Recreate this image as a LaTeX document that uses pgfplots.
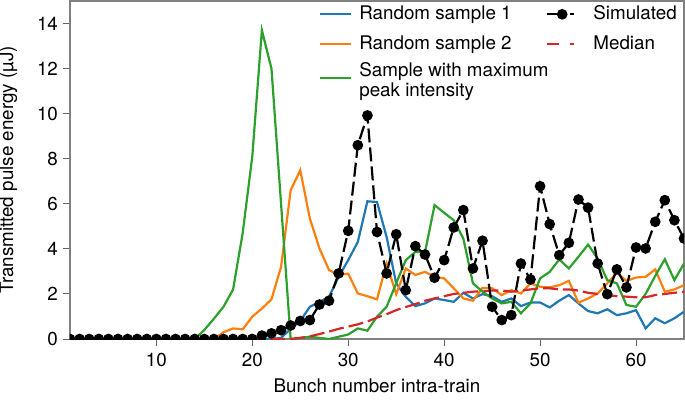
\documentclass[border=0pt]{standalone}
\usepackage{pgfplots}
\pgfplotsset{compat=1.18}
\usepackage{fontspec}
\setmainfont{TeX Gyre Heros}
\definecolor{tabblue}{HTML}{1F77B4}
\definecolor{taborange}{HTML}{FF7F0E}
\definecolor{tabgreen}{HTML}{2CA02C}
\definecolor{tabred}{HTML}{D62728}
\newcommand{\fs}{\fontsize{9.4}{10.2}\selectfont}
\begin{document}
\begin{tikzpicture}
\begin{axis}[
  scale only axis,
  width=307pt, height=169pt,
  xmin=1, xmax=65, ymin=0, ymax=15,
  xtick={10,20,30,40,50,60},
  ytick={0,2,4,6,8,10,12,14},
  tick align=outside,
  major tick length=3.5pt,
  xtick pos=bottom, ytick pos=left,
  tick style={black!60, line width=0.5pt},
  axis line style={black!50, line width=0.6pt},
  clip marker paths=true,
  /pgf/number format/assume math mode=true,
  tick label style={font=\fs},
  yticklabel style={xshift=1pt},
  label style={font=\fs},
  xlabel={Bunch number intra-train},
  ylabel={Transmitted pulse energy (µJ)},
  xlabel style={at={(axis description cs:0.5,0)}, anchor=center, yshift=-23.3pt},
  ylabel style={at={(axis description cs:-0.1003,0.5)}, anchor=center},
  legend columns=2,
  legend cell align=left,
  legend style={draw=none, fill=none, at={(0.395,1)}, anchor=north west, yshift=1pt,
    font=\fs, nodes={align=left, inner sep=1.2pt},
    /tikz/every odd column/.append style={column sep=2.4pt},
    /tikz/every even column/.append style={column sep=16pt},
    row sep=4.2pt},
  legend image code/.code={\draw[#1] (0pt,0pt) -- (15.5pt,0pt);},
]
\coordinate (bl) at (rel axis cs:0,0);
\coordinate (tr) at (rel axis cs:1,1);
% Random sample 1
\addplot[tabblue, line width=1.1pt, forget plot] coordinates {
(1,0)(2,0)(3,0)(4,0)(5,0)(6,0)(7,0)(8,0)(9,0)(10,0)(11,0)(12,0)(13,0)(14,0)(15,0)(16,0)(17,0)(18,0)(19,0)(20,0)(21,0)(22,0)
(23,0.05)(24,0.45)(25,0.8)(26,1.43)(27,1.65)(28,1.87)(29,2.76)(30,3.5)(31,4.31)(32,6.11)(33,6.08)(34,4.53)(35,2.47)(36,1.87)(37,1.46)(38,1.58)(39,1.8)(40,1.73)(41,1.65)(42,2.05)(43,1.8)(44,1.99)(45,1.9)(46,1.65)(47,1.8)(48,1.46)(49,1.62)(50,1.62)(51,1.4)(52,1.7)(53,1.95)(54,1.58)(55,1.24)(56,1.14)(57,1.32)(58,1.06)(59,1.14)(60,1.28)(61,0.47)(62,0.92)(63,0.7)(64,0.92)(65,1.21)};
% Random sample 2
\addplot[taborange, line width=1.1pt, forget plot] coordinates {
(1,0)(2,0)(3,0)(4,0)(5,0)(6,0)(7,0)(8,0)(9,0)(10,0)(11,0)(12,0)(13,0)(14,0)(15,0)(16,0)
(17,0.3)(18,0.47)(19,0.43)(20,0.99)(21,1.35)(22,1.76)(23,3.2)(24,6.6)(25,7.49)(26,5.35)(27,4.02)(28,3.06)(29,2.84)(30,2.9)(31,2.02)(32,1.9)(33,1.76)(34,3.35)(35,1.99)(36,3.13)(37,2.84)(38,2.98)(39,2.76)(40,2.69)(41,2.25)(42,1.8)(43,1.7)(44,2.27)(45,2.25)(46,1.95)(47,2.17)(48,2.02)(49,2.47)(50,2.32)(51,2.29)(52,2.39)(53,2.58)(54,1.61)(55,1.8)(56,2.02)(57,2.47)(58,2.94)(59,2.58)(60,2.73)(61,2.76)(62,3.09)(63,2.1)(64,2.2)(65,2.39)};
% Sample with maximum peak intensity
\addplot[tabgreen, line width=1.1pt, forget plot] coordinates {
(1,0)(2,0)(3,0)(4,0)(5,0)(6,0)(7,0)(8,0)(9,0)(10,0)(11,0)(12,0)(13,0)(14,0)
(15,0.4)(16,0.9)(17,1.43)(18,2.2)(19,4.7)(20,8.1)(21,13.7)(22,12.0)(23,6.0)(24,0)(25,0.05)(26,0.1)(27,0.05)(28,0)(29,0.1)(30,0.2)(31,0.47)(32,0.37)(33,0.99)(34,1.43)(35,2.47)(36,3.5)(37,3.87)(38,3.84)(39,5.94)(40,5.6)(41,5.27)(42,4.46)(43,2.47)(44,2.1)(45,1.8)(46,1.58)(47,1.65)(48,1.14)(49,1.58)(50,2.69)(51,2.98)(52,3.53)(53,3.13)(54,3.65)(55,4.19)(56,3.57)(57,2.61)(58,2.47)(59,1.51)(60,1.43)(61,2.0)(62,2.8)(63,3.54)(64,2.61)(65,3.35)};
% Median
\addplot[tabred, line width=1.1pt, dash pattern=on 7.5pt off 2.5pt, forget plot] coordinates {
(1,0)(2,0)(3,0)(4,0)(5,0)(6,0)(7,0)(8,0)(9,0)(10,0)(11,0)(12,0)(13,0)(14,0)(15,0)(16,0)(17,0)(18,0)(19,0)(20,0)(21,0)(22,0)(23,0)(24,0)
(25,0.05)(26,0.12)(27,0.22)(28,0.33)(29,0.45)(30,0.55)(31,0.65)(32,0.78)(33,0.95)(34,1.1)(35,1.28)(36,1.42)(37,1.55)(38,1.7)(39,1.8)(40,1.9)(41,2.0)(42,2.05)(43,2.1)(44,2.12)(45,2.15)(46,2.15)(47,2.1)(48,2.15)(49,2.2)(50,2.25)(51,2.25)(52,2.2)(53,2.2)(54,2.15)(55,2.05)(56,2.0)(57,1.95)(58,1.9)(59,1.88)(60,1.85)(61,1.85)(62,1.95)(63,2.0)(64,2.05)(65,2.1)};
% Simulated
\addplot[black, line width=1.1pt, dash pattern=on 7pt off 2.5pt, mark=*, mark size=2.1pt, mark options={solid}, forget plot] coordinates {
(1,0)(2,0)(3,0)(4,0)(5,0)(6,0)(7,0)(8,0)(9,0)(10,0)(11,0)(12,0)(13,0)(14,0)(15,0)(16,0)(17,0)(18,0)(19,0)(20,0)
(21,0.15)(22,0.25)(23,0.39)(24,0.6)(25,0.8)(26,0.84)(27,1.53)(28,1.7)(29,2.91)(30,4.8)(31,8.6)(32,9.92)(33,4.75)(34,2.91)(35,4.65)(36,2.17)(37,4.12)(38,3.75)(39,2.72)(40,3.5)(41,4.95)(42,5.72)(43,3.13)(44,4.36)(45,1.43)(46,0.84)(47,1.06)(48,3.35)(49,2.64)(50,6.78)(51,5.1)(52,3.72)(53,4.27)(54,6.19)(55,5.83)(56,3.35)(57,1.99)(58,3.09)(59,2.29)(60,4.06)(61,4.02)(62,5.2)(63,6.16)(64,5.27)(65,4.46)};
% legend
\addlegendimage{tabblue, line width=1.1pt}
\addlegendentry{Random sample 1}
\addlegendimage{black, line width=1.1pt, legend image code/.code={
  \path[draw=none] (0pt,0pt) -- (19.5pt,0pt);
  \draw[black, line width=1.1pt] (0pt,0pt) -- (5.5pt,0pt);
  \fill[black] (7.5pt,0pt) circle (2.1pt);
  \draw[black, line width=1.1pt] (11.5pt,0pt) -- (13.2pt,0pt);}}
\addlegendentry{Simulated}
\addlegendimage{taborange, line width=1.1pt}
\addlegendentry{Random sample 2}
\addlegendimage{tabred, line width=1.1pt, legend image code/.code={
  \path[draw=none] (0pt,0pt) -- (19.5pt,0pt);
  \draw[tabred, line width=1.1pt] (0pt,0pt) -- (6pt,0pt);
  \draw[tabred, line width=1.1pt] (11.5pt,0pt) -- (13.2pt,0pt);}}
\addlegendentry{Median}
\addlegendimage{tabgreen, line width=1.1pt}
\addlegendentry{\rlap{\raisebox{0pt}[10.6pt][6pt]{\begin{tabular}{@{}l@{}}Sample with maximum\\peak intensity\end{tabular}}}}
\end{axis}
\pgfresetboundingbox
\path ([xshift=-35pt,yshift=-30pt]bl) rectangle ([xshift=0.5pt,yshift=0.5pt]tr);
\end{tikzpicture}
\end{document}
